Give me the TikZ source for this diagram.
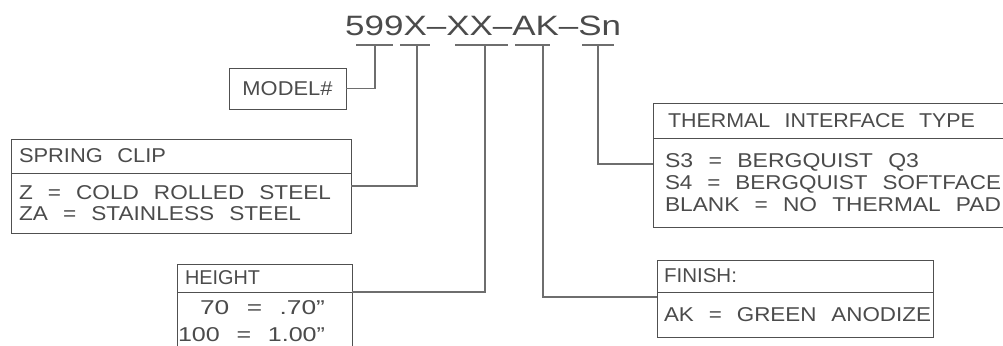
\documentclass[tikz,border=0pt]{standalone}
\usepackage{fontspec}
\setmainfont{Liberation Sans}
\usepackage{graphicx}
\usepackage{tikz}
\usetikzlibrary{positioning}
\usepackage{xcolor}
\definecolor{BoxLine} {RGB}{80,80,80}
\definecolor{LeadLine}{RGB}{110,110,110}
\definecolor{CadInk}  {RGB}{75,75,75}
% stretch one line of lettering to a given width, keeping its height
\newcommand{\cadline}[2]{\resizebox{#1}{\height}{#2}}
\newcommand{\cadfont}{\fontsize{20bp}{21.5bp}\selectfont}
\tikzset{
  % Part number along the top
  pn/.style={anchor=base west, inner sep=0pt, text=CadInk,
    font=\fontsize{28bp}{30bp}\selectfont},
  % One cell of a callout table (text width as argument)
  cell/.style={
    rectangle, draw=BoxLine, line width=1bp, outer sep=0pt,
    align=left, text=CadInk, font=\cadfont,
    inner xsep=8bp, inner ysep=0pt, text width=#1
  },
  cell/.default=4cm,
  % Leader from a table up to its field
  lead/.style={draw=LeadLine, line width=1.4bp}
}

\begin{document}
\begin{tikzpicture}[node distance=0pt, x=1bp, y=-1bp]

  \useasboundingbox (0,0) rectangle (1003,345);
  \clip (0,0) rectangle (1003,345);

  %% ── Part number ───────────────────────────────────────────────────────────
  \node[pn] (pn) at (345,35) {\cadline{276bp}{599X--XX--AK--Sn}};

  \coordinate (k599) at (375,45);
  \coordinate (kX)   at (417,45);
  \coordinate (kXX)  at (485,45);
  \coordinate (kAK)  at (543,45);
  \coordinate (kSn)  at (598,45);

  \draw[lead] ([xshift=-19bp]k599) -- ([xshift=18bp]k599);
  \draw[lead] ([xshift=-17bp]kX)   -- ([xshift=13bp]kX);
  \draw[lead] ([xshift=-30bp]kXX)  -- ([xshift=23bp]kXX);
  \draw[lead] ([xshift=-28bp]kAK)  -- ([xshift=7bp]kAK);
  \draw[lead] ([xshift=-16bp]kSn)  -- ([xshift=16bp]kSn);

  %% ── Model ─────────────────────────────────────────────────────────────────
  \node[cell=101bp, align=center, minimum height=41bp, anchor=north west]
    (model) at (229,68) {\cadline{90bp}{MODEL\#}};

  \draw[lead] (model.east) -| (k599);

  %% ── Spring clip ───────────────────────────────────────────────────────────
  \node[cell=324bp, minimum height=34bp, anchor=north west]
    (shead) at (11,139) {\cadline{147bp}{SPRING~~CLIP}};
  \node[cell=324bp, minimum height=60bp, below=of shead] (sbody)
    {\cadline{312bp}{Z~~=~~COLD~~ROLLED~~STEEL}\\
     \cadline{282bp}{ZA~~=~~STAINLESS~~STEEL}};

  \draw[lead] ([yshift=17bp]sbody.east) -| (kX);

  %% ── Height ────────────────────────────────────────────────────────────────
  \node[cell=159bp, minimum height=28bp, anchor=north west]
    (hhead) at (177,264) {\cadline{75bp}{HEIGHT}};
  \node[cell=173bp, inner xsep=1bp, minimum height=58bp, below=of hhead,
    font=\fontsize{20bp}{27bp}\selectfont] (hbody)
    {\hspace*{22bp}\cadline{125bp}{70~~=~~.70''}\\
     \cadline{147bp}{100~~=~~1.00''}};

  \draw[lead] (hhead.south east) -| (kXX);

  %% ── Thermal interface ─────────────────────────────────────────────────────
  \node[cell=336bp, inner xsep=12bp, minimum height=35bp, anchor=north west]
    (thead) at (653,103) {\hspace*{3bp}\cadline{307bp}{THERMAL~~INTERFACE~~TYPE}};
  \node[cell=336bp, inner xsep=12bp, minimum height=89bp, below=of thead,
    font=\fontsize{20bp}{21.7bp}\selectfont] (tbody)
    {\cadline{254bp}{S3~~=~~BERGQUIST~~Q3}\\
     \cadline{336bp}{S4~~=~~BERGQUIST~~SOFTFACE}\\
     \cadline{336bp}{BLANK~~=~~NO~~THERMAL~~PAD}};

  \draw[lead] ([yshift=18.5bp]tbody.west) -| (kSn);

  %% ── Finish ────────────────────────────────────────────────────────────────
  \node[cell=262bp, inner xsep=7bp, minimum height=32bp, anchor=north west]
    (fhead) at (657,260) {\cadline{73bp}{FINISH:}};
  \node[cell=262bp, inner xsep=7bp, minimum height=45bp, below=of fhead] (fbody)
    {\cadline{267bp}{AK~~=~~GREEN~~ANODIZE}};

  \draw[lead] ([yshift=17.5bp]fbody.west) -| (kAK);

\end{tikzpicture}
\end{document}
